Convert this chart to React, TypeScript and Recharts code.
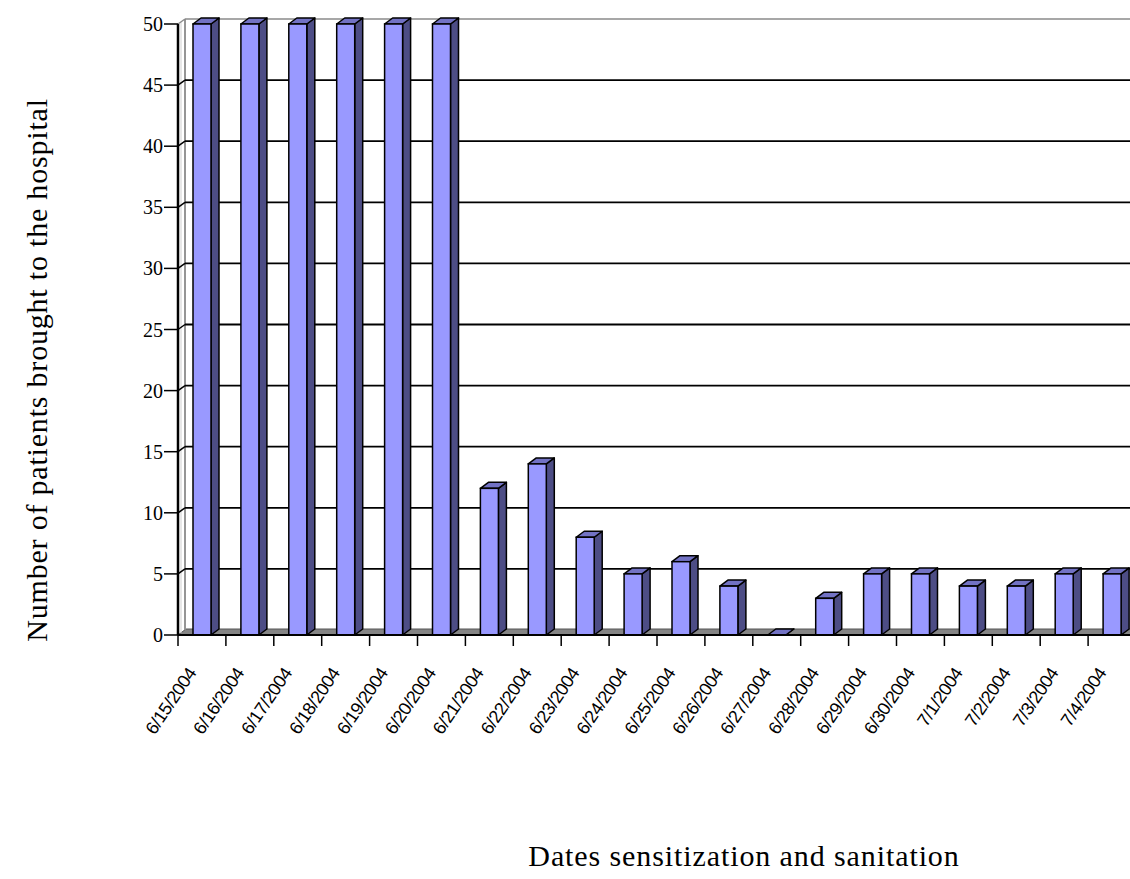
import React from 'react';
import { BarChart, Bar, XAxis, YAxis, CartesianGrid } from 'recharts';

const categories = [
  '6/15/2004', '6/16/2004', '6/17/2004', '6/18/2004', '6/19/2004', '6/20/2004',
  '6/21/2004', '6/22/2004', '6/23/2004', '6/24/2004', '6/25/2004', '6/26/2004',
  '6/27/2004', '6/28/2004', '6/29/2004', '6/30/2004', '7/1/2004', '7/2/2004',
  '7/3/2004', '7/4/2004',
];
const patients = [50, 50, 50, 50, 50, 50, 12, 14, 8, 5, 6, 4, 0, 3, 5, 5, 4, 4, 5, 5];
const yTicks = [0, 5, 10, 15, 20, 25, 30, 35, 40, 45, 50];

const yTitle = 'Number of patients brought to the hospital';
const xTitle = 'Dates sensitization and sanitation';

const data = categories.map((date, i) => ({ date, patients: patients[i] }));

const DX = 8;
const DY = -6;
const WX = 7;
const WY = -5;
const FRONT = '#9999FF';
const SIDE = '#4D4D85';
const TOP = '#7272C4';
const SERIF = "'Liberation Serif', 'Times New Roman', serif";

const Bar3D = (props: any) => {
  const { x, y, width, height } = props;
  if (x == null || y == null) return null;
  const h = Math.max(0, height || 0);
  const w = width;
  return (
    <g>
      <polygon
        points={`${x + w},${y} ${x + w + DX},${y + DY} ${x + w + DX},${y + h + DY} ${x + w},${y + h}`}
        fill={SIDE}
        stroke="#000"
        strokeWidth={1.5}
        strokeLinejoin="round"
      />
      <polygon
        points={`${x},${y} ${x + DX},${y + DY} ${x + w + DX},${y + DY} ${x + w},${y}`}
        fill={TOP}
        stroke="#000"
        strokeWidth={1.5}
        strokeLinejoin="round"
      />
      {h > 0 && (
        <rect x={x} y={y} width={w} height={h} fill={FRONT} stroke="#000" strokeWidth={1.5} />
      )}
    </g>
  );
};

const gridLine = (p: any) => {
  const { x1, y1, x2, y, height } = p;
  const bottom = y + height;
  const isBottom = Math.abs(y1 - bottom) < 0.5;
  const isTop = Math.abs(y1 - y) < 0.5;
  const key = p.key ?? `g-${y1}`;
  if (isBottom) {
    return (
      <g key={key}>
        <polygon
          points={`${x1},${y1} ${x2},${y1} ${x2 + DX},${y1 + DY} ${x1 + DX},${y1 + DY}`}
          fill="#858585"
          stroke="#555"
          strokeWidth={1}
        />
        <line x1={x1 + WX} y1={y1 + WY} x2={x1 + WX} y2={y + WY} stroke="#8a8a8a" strokeWidth={1.8} />
        <line x1={x1 + 3} y1={y1 - 2} x2={x1 + 3} y2={y - 2} stroke="#cfcfcf" strokeWidth={1} />
      </g>
    );
  }
  if (isTop) {
    return (
      <g key={key}>
        <line x1={x1 + WX} y1={y1 + WY} x2={x2 + DX} y2={y1 + WY} stroke="#8a8a8a" strokeWidth={1.5} />
        <line x1={x1} y1={y1} x2={x1 + WX} y2={y1 + WY} stroke="#8a8a8a" strokeWidth={1.5} />
      </g>
    );
  }
  return (
    <g key={key}>
      <line x1={x1 + WX} y1={y1 + WY} x2={x2 + DX} y2={y1 + WY} stroke="#000" strokeWidth={1.8} />
      <line x1={x1} y1={y1} x2={x1 + WX} y2={y1 + WY} stroke="#000" strokeWidth={1.5} />
    </g>
  );
};

const DateTick = (props: any) => {
  const { x, y, payload, width, visibleTicksCount } = props;
  const half =
    payload && typeof payload.offset === 'number' && payload.offset > 0
      ? payload.offset
      : width / (visibleTicksCount || 20) / 2;
  const edge = x - half;
  return (
    <g>
      <line x1={edge} y1={y} x2={edge} y2={y + 11} stroke="#000" strokeWidth={1.5} />
      <text
        transform={`translate(${x - 5},${y + 38}) rotate(-56)`}
        textAnchor="end"
        fontFamily="'Liberation Sans', Arial, sans-serif"
        fontSize={18}
        letterSpacing={-0.5}
        fill="#000"
      >
        {payload.value}
      </text>
    </g>
  );
};

const renderValueTick = (props: any) => {
  const { x, y, payload } = props;
  return (
    <g key={`yt-${payload.value}`}>
      <text
        x={x}
        y={y + 7}
        textAnchor="end"
        fontFamily={SERIF}
        fontSize={20}
        fill="#000"
      >
        {String(payload.value)}
      </text>
    </g>
  );
};

const XTitle = () => (
  <text
    x={744}
    y={866}
    textAnchor="middle"
    fontFamily={SERIF}
    fontSize={30}
    letterSpacing={0.9}
    fill="#000"
  >
    {xTitle}
  </text>
);

const YTitle = () => (
  <text
    x={0}
    y={0}
    transform="translate(47,370) rotate(-90)"
    textAnchor="middle"
    fontFamily={SERIF}
    fontSize={30}
    letterSpacing={0.8}
    fill="#000"
  >
    {yTitle}
  </text>
);

export default function App() {
  return (
    <div
      style={{
        position: 'absolute',
        left: 0,
        top: 0,
        width: 1130,
        height: 879,
        overflow: 'hidden',
        background: '#fff',
      }}
    >
      <BarChart
        width={1150}
        height={879}
        data={data}
        margin={{ top: 24, right: 14, bottom: 0, left: 0 }}
        barCategoryGap={0}
      >
        <CartesianGrid vertical={false} horizontal={gridLine} />
        <XAxis
          dataKey="date"
          interval={0}
          height={244}
          tickLine={false}
          axisLine={{ stroke: '#000', strokeWidth: 2 }}
          tickSize={0}
          tickMargin={0}
          tick={<DateTick />}
          label={<XTitle />}
        />
        <YAxis
          domain={[0, 50]}
          ticks={yTicks}
          width={178}
          tickSize={14}
          tickMargin={1}
          interval={0}
          axisLine={{ stroke: '#000', strokeWidth: 2.5 }}
          tickLine={{ stroke: '#000', strokeWidth: 1.5 }}
          tick={renderValueTick}
          label={<YTitle />}
        />
        <Bar dataKey="patients" barSize={18} shape={<Bar3D />} isAnimationActive={false} />
      </BarChart>
    </div>
  );
}
